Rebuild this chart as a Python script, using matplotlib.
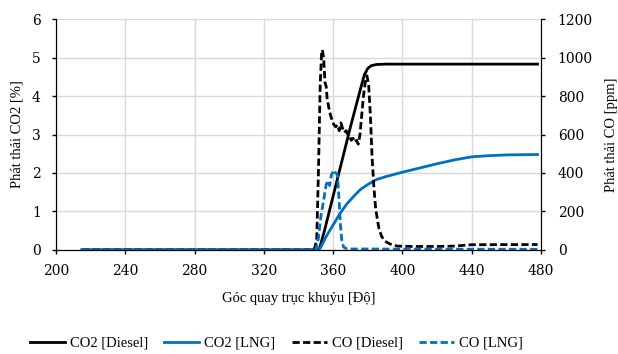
import numpy as np
import matplotlib
matplotlib.use("Agg")
import matplotlib.pyplot as plt

plt.rcParams['font.family'] = ['DejaVu Serif']
plt.rcParams['font.size'] = 10
lab_font = dict(family='Liberation Serif', size=10.5)

# CO2 Diesel [%]
co2_d_x = [215, 350, 352, 355, 360, 365, 370, 375, 378, 380, 382, 385, 390, 478]
co2_d_y = [0, 0, 0.02, 0.5, 1.4, 2.3, 3.2, 4.05, 4.55, 4.72, 4.79, 4.82, 4.83, 4.83]

# CO2 LNG [%]
co2_l_x = [215, 352, 356, 360, 364, 368, 372, 376, 380, 385, 390, 400, 410, 420, 430, 440, 450, 460, 478]
co2_l_y = [0, 0, 0.35, 0.65, 0.95, 1.2, 1.4, 1.58, 1.7, 1.83, 1.9, 2.02, 2.13, 2.24, 2.34, 2.42, 2.45, 2.47, 2.48]

# CO Diesel [ppm]
co_d_x = [215, 349, 350.5, 351.5, 352.5, 353.3, 353.8, 354.5, 355.3, 356, 356.5, 357.5, 358.5,
          359.5, 360.5, 361.5, 362.5, 363.5, 364.5, 365.5, 366.5, 367.5, 368.5, 369.5, 370.5,
          371.5, 372.5, 373.5, 374.5, 375.5, 376.5, 377.5, 378.5, 379.5, 380.5, 381.5, 382.5,
          383.5, 384.5, 385.5, 386.5, 388, 390, 393, 397, 405, 420, 430, 440, 478]
co_d_y = [0, 0, 50, 400, 850, 1020, 1040, 1000, 870, 850, 790, 740, 700,
          670, 650, 640, 650, 620, 660, 630, 610, 620, 600, 590, 570,
          580, 560, 570, 550, 600, 700, 800, 870, 905, 860, 700, 480,
          330, 220, 160, 110, 70, 45, 30, 20, 18, 18, 20, 27, 28]

# CO LNG [ppm]
co_l_x = [215, 350, 351.5, 353, 354, 356, 357, 358, 359, 360.5, 361.5, 362.5, 363.5, 364.3, 365, 366, 368, 478]
co_l_y = [0, 0, 60, 180, 230, 340, 360, 335, 390, 415, 400, 390, 250, 120, 50, 15, 5, 3]

blue = '#0070C0'
dash = (0, (2.6, 1.2))

fig = plt.figure(figsize=(6.18, 3.54), dpi=100)
ax = fig.add_axes([0.0906, 0.294, 0.7848, 0.652])
ax2 = ax.twinx()

l1, = ax.plot(co2_d_x, co2_d_y, color='black', lw=2, label='CO2 [Diesel]')
l2, = ax.plot(co2_l_x, co2_l_y, color=blue, lw=2, label='CO2 [LNG]')
l3, = ax2.plot(co_d_x, co_d_y, color='black', lw=2, linestyle=dash, label='CO [Diesel]')
l4, = ax2.plot(co_l_x, co_l_y, color=blue, lw=2, linestyle=dash, label='CO [LNG]')

ax.set_xlim(200, 480)
ax.set_ylim(0, 6)
ax2.set_ylim(0, 1200)
ax.set_xticks(np.arange(200, 481, 40))
ax.set_yticks(np.arange(0, 7, 1))
ax2.set_yticks(np.arange(0, 1201, 200))
ax.grid(True, color='#d9d9d9', lw=1)
ax.set_axisbelow(True)

for a in (ax, ax2):
    a.spines['top'].set_visible(False)
    a.tick_params(length=3, width=1, color='black', labelsize=10)
ax.tick_params(axis='x', pad=7)
ax.tick_params(axis='y', pad=8)
ax2.tick_params(axis='y', pad=9)

ax.set_xlabel('Góc quay trục khuỷu [Độ]', labelpad=10, fontdict=lab_font)
ax.set_ylabel('Phát thải CO2 [%]', labelpad=6, fontdict=lab_font)
ax2.set_ylabel('Phát thải CO [ppm]', labelpad=9, fontdict=lab_font)

fig.legend(handles=[l1, l2, l3, l4], loc='lower center', bbox_to_anchor=(0.447, -0.025),
           ncol=4, frameon=False, handlelength=2.4, columnspacing=1.1, handletextpad=0.35,
           prop=lab_font)

fig.savefig('out.png', dpi=100)
